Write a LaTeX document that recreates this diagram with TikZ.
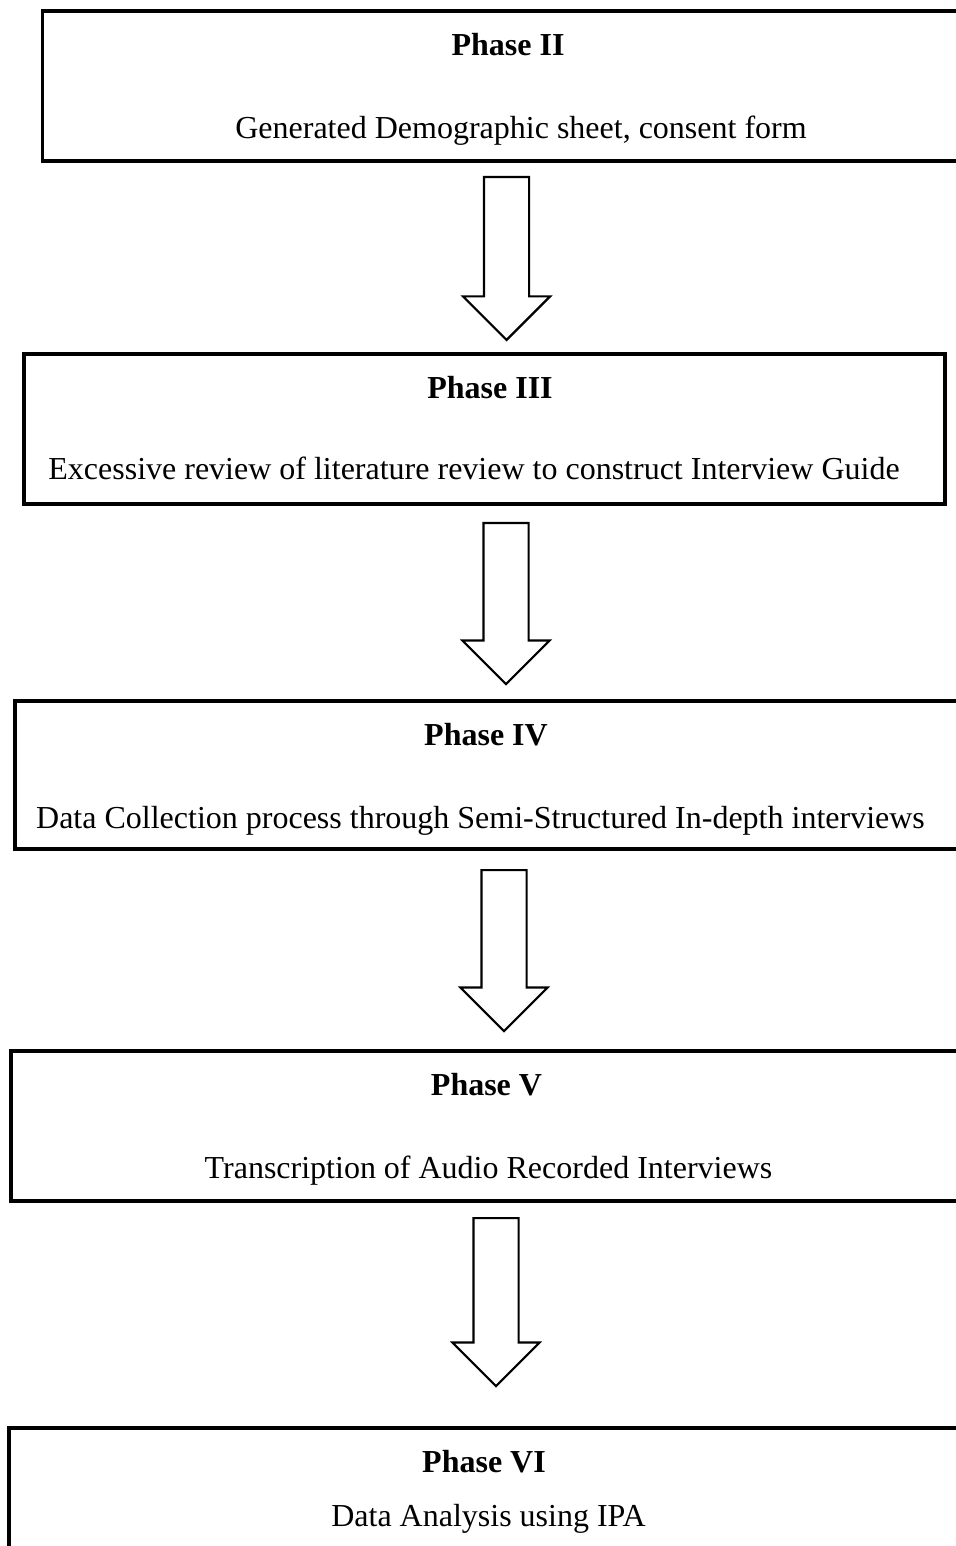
\documentclass[tikz,border=0pt]{standalone}
\usepackage{fontspec}
\setmainfont{Liberation Serif}
\usepackage{tikz}
\usetikzlibrary{shapes.arrows}
\tikzset{
  phasebox/.style={
    draw=black,
    line width=1.2pt,
    inner sep=0pt
  },
  phasetitle/.style={anchor=base,inner sep=0pt,font=\fontsize{12}{14}\selectfont\bfseries},
  phasetext/.style={anchor=base,inner sep=0pt,font=\fontsize{12}{14}\selectfont},
  blockarrow/.style={
    single arrow,
    draw=black,
    fill=white,
    line width=0.8pt,
    inner sep=8.06pt,
    single arrow head extend=7.9pt,
    single arrow tip angle=90,
    shape border rotate=270,
    anchor=tail
  }
}

\begin{document}
\begin{tikzpicture}[x=0.375pt,y=-0.375pt]
    \useasboundingbox (0,0) rectangle (955,1546);

    % phase boxes
    \node[phasebox,minimum width=344.81pt,minimum height=56.25pt] (phase2) at (502.25,86) {};
    \node[phasebox,minimum width=345.38pt,minimum height=56.25pt] (phase3) at (484.5,429) {};
    \node[phasebox,minimum width=355.13pt,minimum height=55.5pt] (phase4) at (488.5,775) {};
    \node[phasebox,minimum width=356.63pt,minimum height=56.25pt] (phase5) at (486.5,1126) {};
    \node[phasebox,minimum width=357.38pt,minimum height=57pt] (phase6) at (485.5,1504) {};

    % texts
    \node[phasetitle] (title2) at (508,55.5) {Phase II};
    \node[phasetext] (text2) at (521,138.5) {Generated Demographic sheet, consent form};
    \node[phasetitle] (title3) at (490,398.5) {Phase III};
    \node[phasetext] (text3) at (474,479.5) {Excessive review of literature review to construct Interview Guide};
    \node[phasetitle] (title4) at (486,745.5) {Phase IV};
    \node[phasetext] (text4) at (480.5,828.5) {Data Collection process through Semi-Structured In-depth interviews};
    \node[phasetitle] (title5) at (486.5,1095.5) {Phase V};
    \node[phasetext] (text5) at (488.5,1178.5) {Transcription of Audio Recorded Interviews};
    \node[phasetitle] (title6) at (484,1472.5) {Phase VI};
    \node[phasetext] (text6) at (488.5,1526.5) {Data Analysis using IPA};

    % hollow arrows between the phases
    \node[blockarrow,minimum height=61.1pt] (arrow23) at (506.5,176) {};
    \node[blockarrow,minimum height=60.4pt] (arrow34) at (506,522) {};
    \node[blockarrow,minimum height=60.4pt] (arrow45) at (504,869) {};
    \node[blockarrow,minimum height=63pt] (arrow56) at (496,1217) {};
\end{tikzpicture}
\end{document}
